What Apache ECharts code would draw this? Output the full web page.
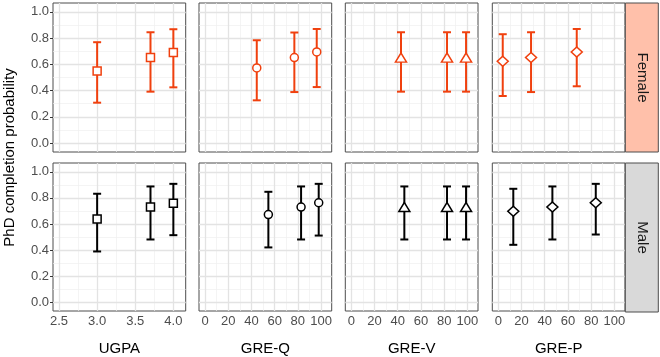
<!DOCTYPE html>
<html><head><meta charset="utf-8">
<script src="https://cdn.jsdelivr.net/npm/echarts@6/dist/echarts.min.js"></script>
<style>html,body{margin:0;padding:0;background:#fff}#c{width:660px;height:357px}</style>
</head><body><div id="c"></div>
<script>
// ---- data ----
const rows = ['Female', 'Male'];
const panels = ['UGPA', 'GRE-Q', 'GRE-V', 'GRE-P'];
const yTicks = [0, 0.2, 0.4, 0.6, 0.8, 1.0];
const yMinor = [0.1, 0.3, 0.5, 0.7, 0.9];
const ugpaTicks = [2.5, 3.0, 3.5, 4.0];
const ugpaMinor = [2.75, 3.25, 3.75];
const greTicks = [0, 20, 40, 60, 80, 100];
const greMinor = [10, 30, 50, 70, 90];

const femaleUgpaX = [3.0, 3.7, 4.0];
const femaleUgpaEst = [0.55, 0.652, 0.69];
const femaleUgpaLo = [0.308, 0.392, 0.425];
const femaleUgpaHi = [0.769, 0.845, 0.868];
const femaleGreQX = [44.6, 77, 96.3];
const femaleGreQEst = [0.573, 0.652, 0.695];
const femaleGreQLo = [0.326, 0.389, 0.427];
const femaleGreQHi = [0.784, 0.843, 0.87];
const femaleGreVX = [42.8, 82.5, 98.9];
const femaleGreVEst = [0.652, 0.652, 0.652];
const femaleGreVLo = [0.392, 0.392, 0.392];
const femaleGreVHi = [0.845, 0.845, 0.845];
const femaleGrePX = [3.8, 28.2, 67.6];
const femaleGrePEst = [0.624, 0.652, 0.695];
const femaleGrePLo = [0.359, 0.389, 0.433];
const femaleGrePHi = [0.83, 0.845, 0.87];

const maleUgpaX = [3.0, 3.7, 4.0];
const maleUgpaEst = [0.638, 0.73, 0.76];
const maleUgpaLo = [0.389, 0.481, 0.514];
const maleUgpaHi = [0.832, 0.888, 0.908];
const maleGreQX = [54.6, 82.8, 98];
const maleGreQEst = [0.672, 0.73, 0.763];
const maleGreQLo = [0.42, 0.481, 0.511];
const maleGreQHi = [0.847, 0.888, 0.908];
const maleGreVX = [45.7, 82.5, 98.9];
const maleGreVEst = [0.73, 0.73, 0.73];
const maleGreVLo = [0.481, 0.481, 0.481];
const maleGreVHi = [0.888, 0.888, 0.888];
const maleGrePX = [12.9, 46.6, 84];
const maleGrePEst = [0.697, 0.73, 0.763];
const maleGrePLo = [0.44, 0.481, 0.519];
const maleGrePHi = [0.87, 0.888, 0.908];

// ---- layout / style ----
const FONT = '"Liberation Sans", Arial, sans-serif';
const rowColors = ['#F0400E', '#000000'];
const stripFills = ['#FFC0AA', '#D9D9D9'];
const symbols = ['rect', 'circle', 'triangle', 'diamond'];
const symSizes = [[8, 8], [8, 8], [11, 9], [11, 10]];
const gridLefts = [53, 199, 345.3, 492.3];
const gridTops = [3, 163];
const gridW = 132.7, gridH = 149;
const yMin = -0.068, yMax = 1.068;
const xRanges = [[2.421, 4.162], [-5.2, 109.2], [-5.2, 109.2], [-5.2, 109.2]];

const dataSets = [
  [[femaleUgpaX, femaleUgpaEst, femaleUgpaLo, femaleUgpaHi],
   [femaleGreQX, femaleGreQEst, femaleGreQLo, femaleGreQHi],
   [femaleGreVX, femaleGreVEst, femaleGreVLo, femaleGreVHi],
   [femaleGrePX, femaleGrePEst, femaleGrePLo, femaleGrePHi]],
  [[maleUgpaX, maleUgpaEst, maleUgpaLo, maleUgpaHi],
   [maleGreQX, maleGreQEst, maleGreQLo, maleGreQHi],
   [maleGreVX, maleGreVEst, maleGreVLo, maleGreVHi],
   [maleGrePX, maleGrePEst, maleGrePLo, maleGrePHi]]
];

const grids = [], xAxes = [], yAxes = [], series = [], graphics = [];
const majorStyle = { color: '#E3E3E3', width: 1.3, type: 'solid' };
const minorStyle = { color: '#EFEFEF', width: 0.7, type: 'solid' };

for (let r = 0; r < 2; r++) {
  for (let c = 0; c < 4; c++) {
    const idx = r * 4 + c;
    grids.push({ left: gridLefts[c], top: gridTops[r], width: gridW, height: gridH,
      show: true, borderColor: '#4D4D4D', borderWidth: 1, backgroundColor: '#fff', containLabel: false });
    const xt = c === 0 ? ugpaTicks : greTicks;
    const xm = c === 0 ? ugpaMinor : greMinor;
    xAxes.push({
      gridIndex: idx, type: 'value', min: xRanges[c][0], max: xRanges[c][1],
      axisLine: { show: false }, splitLine: { show: false },
      axisTick: { show: r === 1, length: 3, customValues: xt, lineStyle: { color: '#333', width: 1 } },
      axisLabel: { show: r === 1, customValues: xt, fontSize: 13, fontFamily: FONT, color: '#4D4D4D', margin: 4,
        formatter: v => c === 0 ? v.toFixed(1) : String(Math.round(v)) },
      name: r === 1 ? panels[c] : '', nameLocation: 'middle', nameGap: 30,
      nameTextStyle: { fontSize: 15, fontFamily: FONT, color: '#000' }
    });
    yAxes.push({
      gridIndex: idx, type: 'value', min: yMin, max: yMax,
      axisLine: { show: false }, splitLine: { show: false },
      axisTick: { show: true, length: 3, customValues: yTicks, lineStyle: { color: '#333', width: 1 } },
      axisLabel: { show: c === 0, customValues: yTicks, fontSize: 13, fontFamily: FONT, color: '#4D4D4D', margin: 4,
        formatter: v => v.toFixed(1) }
    });
    // gridlines
    const ml = [];
    yMinor.forEach(v => ml.push({ yAxis: v, lineStyle: minorStyle }));
    xm.forEach(v => ml.push({ xAxis: v, lineStyle: minorStyle }));
    yTicks.forEach(v => ml.push({ yAxis: v, lineStyle: majorStyle }));
    xt.forEach(v => ml.push({ xAxis: v, lineStyle: majorStyle }));
    series.push({
      type: 'scatter', xAxisIndex: idx, yAxisIndex: idx, data: [], silent: true,
      markLine: { silent: true, symbol: ['none', 'none'], label: { show: false }, z: 1,
        emphasis: { disabled: true }, animation: false, data: ml }
    });
    const [xs, est, lo, hi] = dataSets[r][c];
    const col = rowColors[r];
    series.push({
      type: 'custom', xAxisIndex: idx, yAxisIndex: idx, z: 3, silent: true,
      data: xs.map((x, i) => [x, lo[i], hi[i]]),
      renderItem: (params, api) => {
        const pLo = api.coord([api.value(0), api.value(1)]);
        const pHi = api.coord([api.value(0), api.value(2)]);
        const hw = 4;
        const st = { stroke: col, lineWidth: 2 };
        return { type: 'group', children: [
          { type: 'line', shape: { x1: pLo[0], y1: pLo[1], x2: pHi[0], y2: pHi[1] }, style: st },
          { type: 'line', shape: { x1: pLo[0] - hw, y1: pLo[1], x2: pLo[0] + hw, y2: pLo[1] }, style: st },
          { type: 'line', shape: { x1: pHi[0] - hw, y1: pHi[1], x2: pHi[0] + hw, y2: pHi[1] }, style: st }
        ]};
      }
    });
    series.push({
      type: 'scatter', xAxisIndex: idx, yAxisIndex: idx, z: 4, silent: true,
      symbol: symbols[c], symbolSize: symSizes[c],
      itemStyle: { color: '#fff', borderColor: col, borderWidth: 1.5, opacity: 1 },
      data: xs.map((x, i) => [x, est[i]])
    });
  }
  // strip
  graphics.push({ type: 'rect', shape: { x: 625.3, y: gridTops[r], width: 33, height: gridH },
    style: { fill: stripFills[r], stroke: '#4D4D4D', lineWidth: 1 }, z: 10 });
  graphics.push({ type: 'text', x: 642, y: gridTops[r] + gridH / 2, rotation: -Math.PI / 2, z: 11,
    style: { text: rows[r], fill: '#1A1A1A', font: '15px ' + FONT, align: 'center', verticalAlign: 'middle' } });
}
graphics.push({ type: 'text', x: 10, y: 157.5, rotation: Math.PI / 2, z: 11,
  style: { text: 'PhD completion probability', fill: '#000', font: '15px ' + FONT, align: 'center', verticalAlign: 'middle' } });

const chart = echarts.init(document.getElementById('c'), null, { renderer: 'canvas' });
chart.setOption({ animation: false, backgroundColor: '#fff', grid: grids, xAxis: xAxes, yAxis: yAxes,
  series: series, graphic: graphics });
</script></body></html>
